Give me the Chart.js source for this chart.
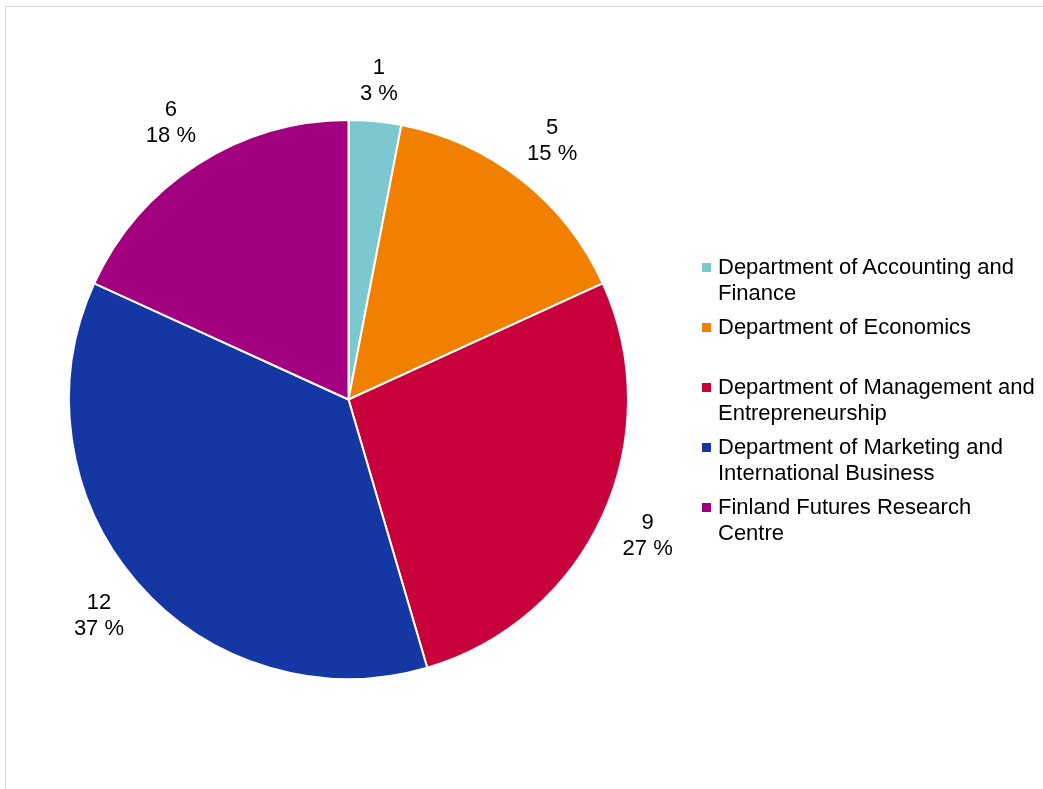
<!DOCTYPE html>
<html>
<head>
<meta charset="utf-8">
<script src="https://cdn.jsdelivr.net/npm/chart.js@4.4.1/dist/chart.umd.min.js"></script>
<style>
  html, body { margin: 0; padding: 0; background: #fff; }
  #wrap { position: relative; width: 1043px; height: 789px; overflow: hidden; }
  #frame { position: absolute; left: 5px; top: 6px; width: 1100px; height: 900px; border: 1px solid #d9d9d9; box-sizing: border-box; }
  #pie { position: absolute; left: 0; top: 0; }
  #legend { position: absolute; left: 702px; top: 254px; font-family: "Liberation Sans", Arial, sans-serif; font-size: 22px; color: #000; }
  .lg-item { position: relative; height: 60px; padding-left: 16px; line-height: 26px; white-space: nowrap; }
  .lg-box { position: absolute; left: 0; top: 9px; width: 9px; height: 9px; }
</style>
</head>
<body>
<div id="wrap">
  <div id="frame"></div>
  <canvas id="pie" width="1043" height="789"></canvas>
  <div id="legend"></div>
</div>
<script>
// ── Data ─────────────────────────────────────────────────────────────────────
const categories = [
  ['Department of Accounting and', 'Finance'],
  ['Department of Economics'],
  ['Department of Management and', 'Entrepreneurship'],
  ['Department of Marketing and', 'International Business'],
  ['Finland Futures Research', 'Centre']
];
const counts   = [1, 5, 9, 12, 6];
const percents = ['3 %', '15 %', '27 %', '37 %', '18 %'];
const colors   = ['#7cc8d1', '#f28000', '#c8003c', '#1537a3', '#a3007f'];

const FONT = '"Liberation Sans", Arial, sans-serif';

// ── Legend (HTML) ────────────────────────────────────────────────────────────
document.getElementById('legend').innerHTML = categories.map((lines, i) => `
  <div class="lg-item">
    <div class="lg-box" style="background:${colors[i]}"></div>
    ${lines.join('<br>')}
  </div>`).join('');

// ── Outside-end data labels: text box kept a fixed gap off the rim ───────────
const clamp = (v, lo, hi) => Math.max(lo, Math.min(hi, v));

const outsideLabels = {
  id: 'outsideLabels',
  afterDatasetsDraw(chart) {
    const ctx = chart.ctx;
    const meta = chart.getDatasetMeta(0);
    ctx.save();
    ctx.font = `22px ${FONT}`;
    ctx.fillStyle = '#000';
    ctx.textAlign = 'center';
    ctx.textBaseline = 'middle';
    meta.data.forEach((arc, i) => {
      const { x, y, startAngle, endAngle, outerRadius } = arc.getProps(['x', 'y', 'startAngle', 'endAngle', 'outerRadius'], true);
      const mid = (startAngle + endAngle) / 2;
      const lines = [String(counts[i]), percents[i]];
      const hw = Math.max(...lines.map(l => ctx.measureText(l).width)) / 2;
      const hh = 21;
      const c = Math.cos(mid), s = Math.sin(mid);
      const target = outerRadius + 18;
      // find distance d so the nearest point of the box sits at `target`
      let lo = outerRadius, hi = outerRadius + 150;
      for (let k = 0; k < 40; k++) {
        const d = (lo + hi) / 2;
        const bx = c * d, by = s * d;
        const nx = clamp(0, bx - hw, bx + hw), ny = clamp(0, by - hh, by + hh);
        if (Math.hypot(nx, ny) < target) lo = d; else hi = d;
      }
      const cx = x + c * lo, cy = y + s * lo;
      ctx.fillText(lines[0], cx, cy - 13);
      ctx.fillText(lines[1], cx, cy + 13);
    });
    ctx.restore();
  }
};

new Chart(document.getElementById('pie'), {
  type: 'pie',
  data: {
    labels: categories.map(l => l.join(' ')),
    datasets: [{
      data: counts,
      backgroundColor: colors,
      borderColor: '#ffffff',
      borderWidth: 2
    }]
  },
  options: {
    responsive: false,
    animation: false,
    layout: { padding: { left: 68, right: 414, top: 119, bottom: 109 } },
    plugins: { legend: { display: false }, tooltip: { enabled: false } }
  },
  plugins: [outsideLabels]
});
</script>
</body>
</html>
